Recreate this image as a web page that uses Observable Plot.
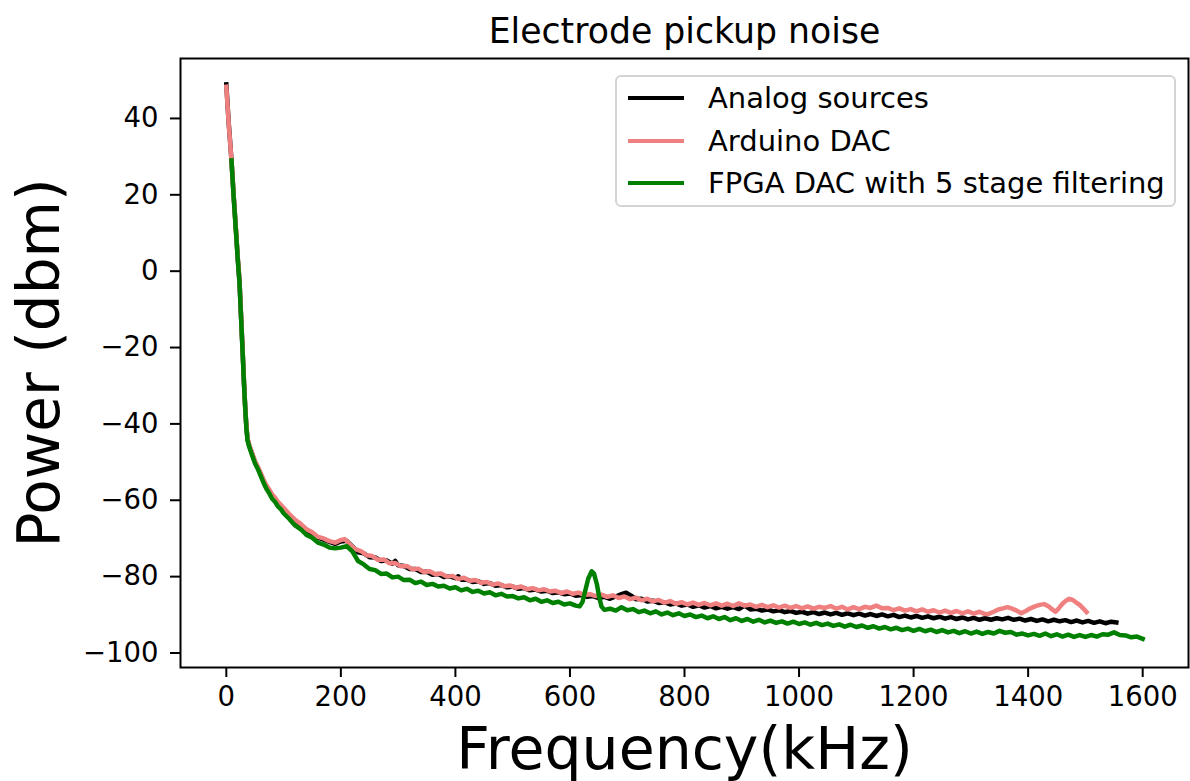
<!DOCTYPE html>
<html>
<head>
<meta charset="utf-8">
<script src="https://cdn.jsdelivr.net/npm/d3@7"></script>
<script src="https://cdn.jsdelivr.net/npm/@observablehq/plot@0.6"></script>
<style>
  html, body { margin: 0; padding: 0; background: white; }
  #wrap { position: relative; width: 1190px; height: 781px; font-family: "DejaVu Sans", sans-serif; }
  #legend { position: absolute; left: 615px; top: 75px; width: 561px; height: 132px; box-sizing: border-box;
    border: 2px solid #d4d4d4; border-radius: 6px; background: rgba(255,255,255,0.85); }
  .row { position: absolute; left: 0; height: 40px; }
  .sw { position: absolute; left: 11px; width: 56px; height: 4px; }
  .lab { position: absolute; left: 91px; font-size: 29px; white-space: nowrap; line-height: 40px; color: black; }
</style>
</head>
<body>
<div id="wrap"><div id="chart"></div>
<div id="legend"></div>
</div>
<script>
const title = "Electrode pickup noise";
const xLabel = "Frequency(kHz)";
const yLabel = "Power (dbm)";
const seriesNames = ["Analog sources", "Arduino DAC", "FPGA DAC with 5 stage filtering"];
const seriesColors = ["#000000", "#f08080", "#008000"];
const xTicks = [0, 200, 400, 600, 800, 1000, 1200, 1400, 1600];
const yTicks = [-100, -80, -60, -40, -20, 0, 20, 40];

// [frequency kHz, power dBm]
const analogSources = [[0,48.9],[4,39.2],[9,29.1],[13,19.3],[17,10.3],[20,3.3],[23,-2.7],[26,-12.7],[29,-22.7],[31,-29.7],[33,-35.7],[35,-40.7],[37,-44],[40,-45.7],[45,-47.8],[50,-49.9],[55,-51.5],[60,-53.1],[65,-54.9],[70,-56.3],[75,-57.5],[80,-58.7],[85,-59.6],[90,-60.6],[95,-61.5],[100,-62.3],[110,-63.9],[120,-65.3],[130,-66.5],[140,-67.8],[150,-68.7],[160,-69.8],[170,-70.3],[180,-70.9],[190,-71.4],[200,-70.8],[210,-70.6],[220,-72.1],[230,-73.6],[240,-73.9],[250,-74.9],[260,-75.0],[270,-75.9],[280,-75.8],[290,-76.6],[295,-75.9],[300,-77.0],[310,-77.2],[320,-78.0],[330,-78.0],[340,-78.8],[350,-78.7],[360,-79.5],[370,-79.3],[380,-80.1],[390,-79.9],[400,-80.4],[405,-79.9],[410,-80.8],[420,-80.8],[430,-81.4],[440,-81.2],[450,-81.9],[460,-81.7],[470,-82.4],[480,-82.2],[490,-82.8],[500,-82.6],[510,-83.2],[520,-83.0],[530,-83.6],[540,-83.4],[550,-83.9],[560,-83.7],[570,-84.3],[580,-84.1],[590,-84.6],[600,-84.4],[610,-85.0],[620,-84.8],[630,-85.3],[640,-85.1],[650,-85.6],[660,-85.3],[670,-85.8],[680,-85.2],[690,-84.6],[698,-84.2],[706,-84.9],[715,-85.9],[725,-85.8],[735,-86.5],[745,-86.3],[755,-86.9],[765,-86.7],[775,-87.3],[785,-87.0],[795,-87.6],[805,-87.3],[815,-87.9],[825,-87.5],[835,-88.1],[845,-87.7],[855,-88.3],[865,-87.9],[875,-88.4],[885,-88.0],[895,-88.5],[905,-87.6],[915,-88.6],[925,-88.4],[935,-88.9],[945,-88.6],[955,-89.1],[965,-88.8],[975,-89.3],[985,-89.0],[995,-89.5],[1005,-89.2],[1015,-89.7],[1025,-89.3],[1035,-89.8],[1045,-89.4],[1055,-89.9],[1065,-89.5],[1075,-90.0],[1085,-89.6],[1095,-90.1],[1105,-89.7],[1115,-90.2],[1125,-89.8],[1135,-90.3],[1145,-89.9],[1155,-90.4],[1165,-90.0],[1175,-90.6],[1185,-90.2],[1195,-90.7],[1205,-90.3],[1215,-90.8],[1225,-90.4],[1235,-90.9],[1245,-90.5],[1255,-91.0],[1265,-90.6],[1275,-91.1],[1285,-90.7],[1295,-91.2],[1305,-90.8],[1315,-91.3],[1325,-90.9],[1335,-91.3],[1345,-90.9],[1355,-91.2],[1365,-90.8],[1375,-91.3],[1385,-91.0],[1395,-91.5],[1405,-91.1],[1415,-91.6],[1425,-91.2],[1435,-91.7],[1445,-91.3],[1455,-91.7],[1465,-91.4],[1475,-91.9],[1485,-91.5],[1495,-92.0],[1505,-91.6],[1515,-92.1],[1525,-91.7],[1535,-92.2],[1545,-91.8],[1554,-92.0]];

const arduinoDac = [[0,48.3],[4,39],[9,29],[13,19.5],[17,10.5],[20,3.5],[23,-2.5],[26,-12.5],[29,-22.5],[31,-29.5],[33,-35.5],[35,-40.5],[37,-43.8],[40,-45.5],[45,-47.6],[50,-49.7],[55,-51.2],[60,-52.9],[65,-54.6],[70,-56.1],[75,-57.2],[80,-58.5],[85,-59.3],[90,-60.4],[95,-61.2],[100,-62.0],[110,-63.6],[120,-65.1],[130,-66.2],[140,-67.6],[150,-68.4],[160,-69.6],[170,-70.0],[180,-70.7],[190,-71.1],[200,-70.4],[207,-70.2],[215,-71.4],[225,-72.8],[235,-73.3],[245,-74.4],[255,-74.6],[265,-75.6],[275,-75.5],[285,-76.5],[295,-76.4],[305,-77.3],[315,-77.2],[325,-78.1],[335,-77.9],[345,-78.8],[355,-78.6],[365,-79.4],[375,-79.2],[385,-80.0],[395,-79.8],[405,-80.6],[415,-80.3],[425,-81.1],[435,-80.9],[445,-81.6],[455,-81.4],[465,-82.1],[475,-81.8],[485,-82.5],[495,-82.3],[505,-82.9],[515,-82.6],[525,-83.3],[535,-83.0],[545,-83.6],[555,-83.3],[565,-83.9],[575,-83.7],[585,-84.3],[595,-83.9],[605,-84.5],[615,-84.2],[625,-84.8],[635,-84.6],[645,-85.1],[655,-84.7],[665,-85.3],[675,-84.9],[685,-85.6],[695,-85.2],[705,-85.9],[715,-85.5],[725,-86.2],[735,-85.8],[745,-86.5],[755,-86.1],[765,-86.8],[775,-86.4],[785,-87.1],[795,-86.7],[805,-87.3],[815,-86.8],[825,-87.4],[835,-86.9],[845,-87.5],[855,-87.0],[865,-87.6],[875,-87.1],[885,-87.7],[895,-87.0],[905,-87.6],[915,-87.3],[925,-87.9],[935,-87.4],[945,-88.0],[955,-87.5],[965,-88.1],[975,-87.6],[985,-88.2],[995,-87.7],[1005,-88.3],[1015,-87.8],[1025,-88.4],[1035,-87.9],[1045,-88.2],[1055,-87.7],[1065,-88.4],[1075,-87.9],[1085,-88.6],[1095,-88.0],[1105,-88.5],[1115,-87.9],[1125,-88.2],[1135,-87.6],[1145,-88.3],[1155,-88.2],[1165,-88.8],[1175,-88.3],[1185,-88.9],[1195,-88.5],[1205,-89.1],[1215,-88.6],[1225,-89.2],[1235,-88.8],[1245,-89.4],[1255,-88.9],[1265,-89.5],[1275,-89.0],[1285,-89.6],[1295,-89.1],[1305,-89.7],[1315,-89.2],[1325,-89.8],[1332,-89.7],[1340,-89.2],[1348,-88.6],[1356,-88.3],[1364,-88.0],[1372,-88.4],[1380,-88.9],[1388,-89.6],[1396,-89.0],[1404,-88.3],[1412,-87.8],[1420,-87.4],[1428,-87.2],[1436,-87.8],[1442,-88.6],[1448,-89.2],[1454,-88.2],[1460,-87.1],[1466,-86.3],[1472,-85.8],[1478,-86.1],[1484,-86.8],[1490,-87.4],[1496,-88.3],[1502,-89.3]];

const fpgaDac = [[9,29],[13,19],[17,10],[20,3],[23,-3],[26,-13],[29,-23],[31,-30],[33,-36],[35,-41],[37,-44.3],[40,-46],[45,-48.2],[50,-50.3],[55,-51.8],[60,-53.6],[65,-55.4],[70,-57],[75,-58.2],[80,-59.6],[85,-60.4],[90,-61.6],[95,-62.3],[100,-63.4],[110,-64.9],[120,-66.6],[130,-67.6],[140,-69.1],[150,-69.8],[160,-71.1],[170,-71.6],[180,-72.4],[190,-72.6],[200,-72.4],[210,-72.0],[220,-73.4],[230,-75.9],[240,-76.8],[250,-78.0],[260,-78.3],[270,-79.3],[280,-79.2],[290,-80.2],[300,-80.0],[310,-80.9],[320,-80.8],[330,-81.7],[340,-81.3],[350,-82.2],[360,-81.9],[370,-82.6],[380,-82.4],[390,-83.1],[400,-82.8],[410,-83.6],[420,-83.2],[430,-84.0],[440,-83.7],[450,-84.4],[460,-84.1],[470,-84.9],[480,-84.5],[490,-85.2],[500,-85.1],[510,-85.7],[520,-85.4],[530,-86.2],[540,-85.8],[550,-86.6],[560,-86.2],[570,-86.9],[580,-86.6],[590,-87.3],[600,-87.0],[610,-87.6],[617,-87.8],[622,-86.6],[627,-83.5],[632,-80.5],[638,-78.6],[642,-79.2],[647,-82.0],[651,-85.3],[655,-87.8],[660,-88.7],[670,-88.4],[680,-88.9],[690,-88.0],[700,-88.8],[710,-88.5],[720,-89.3],[730,-88.9],[740,-89.6],[750,-89.1],[760,-89.9],[770,-89.4],[780,-90.1],[790,-89.6],[800,-90.3],[810,-89.9],[820,-90.6],[830,-90.2],[840,-90.9],[850,-90.4],[860,-91.1],[870,-90.6],[880,-91.4],[890,-90.9],[900,-91.6],[910,-91.1],[920,-91.8],[930,-91.3],[940,-92.0],[950,-91.5],[960,-92.1],[970,-91.7],[980,-92.3],[990,-91.8],[1000,-92.4],[1010,-92.0],[1020,-92.6],[1030,-92.1],[1040,-92.7],[1050,-92.3],[1060,-92.9],[1070,-92.5],[1080,-93.1],[1090,-92.6],[1100,-93.2],[1110,-92.8],[1120,-93.4],[1130,-93.0],[1140,-93.6],[1150,-93.2],[1160,-93.8],[1170,-93.4],[1180,-94.0],[1190,-93.6],[1200,-94.2],[1210,-93.7],[1220,-94.3],[1230,-93.9],[1240,-94.5],[1250,-94.0],[1260,-94.6],[1270,-94.2],[1280,-94.8],[1290,-94.3],[1300,-94.9],[1310,-94.4],[1320,-95.0],[1330,-94.5],[1340,-94.9],[1350,-94.2],[1360,-94.7],[1370,-94.5],[1380,-95.2],[1390,-94.9],[1400,-95.4],[1410,-95.0],[1420,-95.5],[1430,-94.9],[1440,-95.6],[1450,-95.1],[1460,-95.7],[1470,-95.2],[1480,-95.8],[1490,-95.3],[1500,-95.8],[1510,-95.3],[1520,-95.7],[1530,-95.1],[1540,-95.2],[1550,-94.6],[1560,-95.3],[1570,-95.4],[1580,-95.9],[1590,-95.7],[1600,-96.3]];

const allSeries = [analogSources, arduinoDac, fpgaDac];
const fmt = d => d < 0 ? "\u2212" + Math.abs(d) : String(d);

const chart = Plot.plot({
  width: 1190,
  height: 781,
  marginLeft: 180,
  marginRight: 2,
  marginTop: 58,
  marginBottom: 114,
  style: { fontFamily: "DejaVu Sans", fontSize: "27.5px", background: "white", color: "black", overflow: "visible" },
  x: { domain: [-80, 1680], label: null },
  y: { domain: [-103.8, 55.7], label: null },
  marks: [
    ...allSeries.map((s, i) => Plot.line(s, { x: d => d[0], y: d => d[1], stroke: seriesColors[i], strokeWidth: 4.5, strokeLinejoin: "round", strokeLinecap: "square" })),
    Plot.frame({ stroke: "black", strokeWidth: 2 }),
    Plot.axisX({ ticks: xTicks, tickFormat: fmt, tickSize: 10, tickPadding: 9, strokeWidth: 2, fontSize: 27.5, label: null }),
    Plot.axisY({ ticks: yTicks, tickFormat: fmt, tickSize: 10, tickPadding: 12, strokeWidth: 2, fontSize: 27.5, label: null }),
    Plot.text([title], { frameAnchor: "top", lineAnchor: "middle", dy: -27, fontSize: 34.7, fill: "black" }),
    Plot.text([xLabel], { frameAnchor: "bottom", lineAnchor: "middle", dy: 82.5, fontSize: 58.5, fill: "black" }),
    Plot.text([yLabel], { frameAnchor: "left", textAnchor: "middle", lineAnchor: "middle", rotate: -90, dx: -140.5, fontSize: 58, fill: "black" })
  ]
});
document.getElementById("chart").appendChild(chart);

const legend = document.getElementById("legend");
seriesNames.forEach((name, i) => {
  const row = document.createElement("div");
  row.className = "row";
  row.style.top = (1 + i * 42.5) + "px";
  const sw = document.createElement("div");
  sw.className = "sw";
  sw.style.background = seriesColors[i];
  sw.style.top = "18px";
  const lab = document.createElement("div");
  lab.className = "lab";
  lab.textContent = name;
  lab.style.top = "0px";
  row.appendChild(sw);
  row.appendChild(lab);
  legend.appendChild(row);
});
</script>
</body>
</html>
